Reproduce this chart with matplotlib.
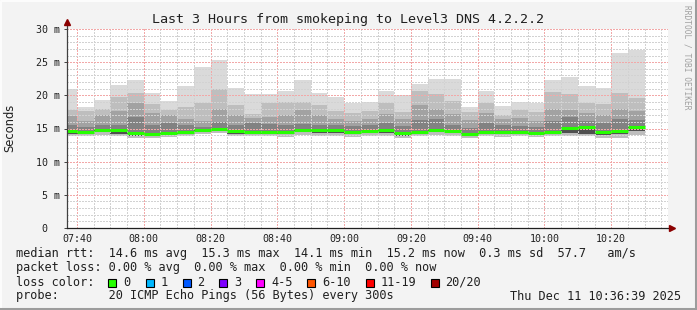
import matplotlib
matplotlib.use("Agg")
import matplotlib.pyplot as plt
from matplotlib.patches import Rectangle
from matplotlib.lines import Line2D
import numpy as np

# 5 minute bins, minutes after 07:00 (first bin is partly outside the window)
bin_start = np.arange(35, 210, 5)

# smoke levels per bin, milliseconds
ping_max = [21.0, 18.2, 19.3, 21.6, 22.3, 20.4, 19.2, 21.4, 24.3, 25.3,
            21.1, 20.2, 20.2, 20.7, 22.3, 20.4, 19.8, 18.9, 19.0, 20.7,
            20.1, 21.7, 22.5, 22.5, 18.2, 20.7, 18.4, 19.0, 18.9, 22.3,
            22.8, 21.4, 21.1, 26.4, 26.9]
ping_p90 = [17.8, 17.6, 18.0, 19.8, 20.3, 18.7, 17.8, 18.3, 18.8, 21.0,
            18.6, 17.2, 18.8, 19.0, 19.0, 18.6, 17.7, 17.3, 17.6, 18.8,
            17.5, 20.6, 20.2, 19.2, 17.5, 18.9, 17.0, 17.8, 17.5, 20.5,
            20.2, 18.8, 18.7, 20.3, 19.6]
ping_p75 = [16.9, 16.2, 17.0, 17.7, 18.9, 17.3, 17.1, 16.4, 16.1, 18.0,
            17.0, 16.6, 16.7, 17.0, 17.8, 17.0, 16.4, 16.2, 16.5, 17.2,
            16.4, 18.6, 18.0, 17.2, 16.3, 17.3, 16.4, 16.6, 16.1, 18.0,
            17.8, 17.4, 17.0, 18.0, 17.6]
ping_p60 = [15.6, 15.3, 15.6, 15.5, 16.8, 15.6, 15.8, 15.5, 15.3, 16.0,
            15.6, 15.8, 15.7, 15.5, 15.7, 15.6, 15.5, 15.4, 15.6, 15.8,
            15.4, 16.3, 16.5, 15.6, 15.1, 15.9, 15.5, 15.4, 15.2, 16.2,
            16.8, 16.1, 15.9, 16.5, 16.3]
ping_median = [14.6, 14.4, 14.8, 14.7, 14.3, 14.1, 14.3, 14.5, 14.8, 15.0,
               14.6, 14.5, 14.5, 14.4, 14.7, 14.7, 14.7, 14.5, 14.6, 14.7,
               14.3, 14.5, 14.7, 14.6, 14.2, 14.5, 14.4, 14.5, 14.3, 14.5,
               15.1, 15.3, 14.4, 14.6, 15.2]
ping_p25 = [14.2, 14.1, 14.4, 14.2, 13.9, 13.8, 14.0, 14.1, 14.5, 14.7,
            14.2, 14.1, 14.2, 14.1, 14.4, 14.3, 14.3, 14.1, 14.3, 14.3,
            13.9, 14.2, 14.4, 14.3, 13.9, 14.2, 14.1, 14.2, 14.0, 14.2,
            14.3, 14.2, 14.0, 14.2, 14.6]
ping_min = [13.8, 13.8, 14.0, 13.8, 13.5, 13.5, 13.7, 13.8, 14.1, 14.3,
            13.8, 13.8, 13.8, 13.7, 14.0, 13.9, 13.9, 13.7, 13.9, 13.9,
            13.6, 13.8, 14.0, 13.9, 13.6, 13.8, 13.7, 13.9, 13.7, 13.9,
            13.9, 13.8, 13.5, 13.6, 14.0]

tick_pos = [40, 60, 80, 100, 120, 140, 160, 180, 200]
tick_labels = ['07:40', '08:00', '08:20', '08:40', '09:00',
               '09:20', '09:40', '10:00', '10:20']
ytick_pos = [0, 5, 10, 15, 20, 25, 30]
ytick_labels = ['0  ', ' 5 m', '10 m', '15 m', '20 m', '25 m', '30 m']

loss_labels = ['0', '1', '2', '3', '4-5', '6-10', '11-19', '20/20']
loss_colors = ['#26ff00', '#00b8ff', '#0059ff', '#7e00ff',
               '#ff00ff', '#ff5500', '#ff0000', '#a10000']

W, H = 697, 310
MONO = 'DejaVu Sans Mono'

fig = plt.figure(figsize=(W / 100, H / 100), dpi=100, facecolor='#f3f3f3')
ax = fig.add_axes([67 / W, 82 / H, 601 / W, 199 / H])
ax.set_facecolor('white')
ax.set_xlim(37, 217)
ax.set_ylim(0, 30)

edges = np.append(bin_start, bin_start[-1] + 5)

# smoke: outer bands light, inner bands dark
ax.stairs(ping_max, edges, baseline=ping_min, fill=True, color='#dadada', zorder=1)
ax.stairs(ping_p90, edges, baseline=ping_min, fill=True, color='#bebebe', zorder=1.1)
ax.stairs(ping_p75, edges, baseline=ping_p25, fill=True, color='#a2a2a2', zorder=1.2)
ax.stairs(ping_p60, edges, baseline=ping_p25, fill=True, color='#828282', zorder=1.3)
ax.stairs(ping_median, edges, baseline=ping_p25, fill=True, color='#505050', zorder=1.4)

# median line (0 % loss -> green)
ax.hlines(ping_median, edges[:-1], edges[1:], color=loss_colors[0], lw=2.2, zorder=3)

# grid on top of the data, rrdtool style
dot = (0, (1.4, 1.4))
grid_kw = dict(lw=0.72, ls=dot, zorder=2.5, antialiased=False)
for x in range(40, 217, 5):
    col = '#f2a8a8' if x in tick_pos else '#d2d2d2'
    ax.axvline(x, color=col, **grid_kw)
for y in range(1, 31):
    col = '#f2a8a8' if y % 5 == 0 else '#d2d2d2'
    ax.axhline(y, color=col, **grid_kw)

for s in ax.spines.values():
    s.set_visible(False)

# axes with arrows
ax.plot([0, 0], [0, 1 + 7 / 199], transform=ax.transAxes, clip_on=False,
        color='#404040', lw=0.9, zorder=4)
ax.plot([0, 1 + 4 / 601], [0, 0], transform=ax.transAxes, clip_on=False,
        color='#202020', lw=0.9, zorder=4)
ax.plot([0], [1 + 7 / 199], marker='^', ms=5, color='#8b0000',
        transform=ax.transAxes, clip_on=False, zorder=5)
ax.plot([1 + 4 / 601], [0], marker='>', ms=5, color='#8b0000',
        transform=ax.transAxes, clip_on=False, zorder=5)

ax.set_xticks(tick_pos, tick_labels)
ax.set_yticks(ytick_pos, ytick_labels)
ax.tick_params(axis='x', length=0, pad=4, labelsize=7.2, labelcolor='#202020')
ax.tick_params(axis='y', length=2.2, width=0.7, pad=2.8, labelsize=7.2,
               color='#404040', labelcolor='#202020')
for lab in ax.get_xticklabels() + ax.get_yticklabels():
    lab.set_family(MONO)

fig.text(10 / W, 1 - 128 / H, 'Seconds', rotation=90, ha='center', va='center',
         fontsize=8.3, family='DejaVu Sans', color='#202020')
fig.text(0.5, 1 - 19 / H, 'Last 3 Hours from smokeping to Level3 DNS 4.2.2.2',
         ha='center', va='center', fontsize=9.6, family=MONO, color='#202020')
fig.text(687 / W, 1 - 5 / H, 'RRDTOOL / TOBI OETIKER', rotation=270,
         ha='center', va='top', fontsize=5.7, family=MONO, color='#a0a0a0')

# legend block
lx = 16 / W
rows = [
    (254, 'median rtt:  14.6 ms avg  15.3 ms max  14.1 ms min  15.2 ms now  0.3 ms sd  57.7   am/s'),
    (268, 'packet loss: 0.00 % avg  0.00 % max  0.00 % min  0.00 % now'),
    (282, 'loss color:'),
    (296, 'probe:       20 ICMP Echo Pings (56 Bytes) every 300s'),
]
for ypix, txt in rows:
    fig.text(lx, 1 - ypix / H, txt, ha='left', va='center', fontsize=8.6,
             family=MONO, color='#202020')

box_x = [108, 145.5, 182.5, 219, 256, 307, 365.5, 430.5]
for bx, lab, col in zip(box_x, loss_labels, loss_colors):
    fig.patches.append(Rectangle((bx / W, 1 - 286.5 / H), 8 / W, 8 / H,
                                 transform=fig.transFigure, facecolor=col,
                                 edgecolor='black', lw=0.8))
    fig.text((bx + 15) / W, 1 - 282 / H, lab, ha='left', va='center',
             fontsize=8.6, family=MONO, color='#202020')

fig.text(681 / W, 1 - 296 / H, 'Thu Dec 11 10:36:39 2025', ha='right',
         va='center', fontsize=8.6, family=MONO, color='#202020')

# image frame
fig.add_artist(Line2D([1 / W, 1 / W, 1 - 1 / W], [1 / H, 1 - 1 / H, 1 - 1 / H],
                      transform=fig.transFigure, color='#fcfcfc', lw=1.5))
fig.add_artist(Line2D([1 / W, 1 - 1.5 / W, 1 - 1.5 / W], [1.5 / H, 1.5 / H, 1 - 1 / H],
                      transform=fig.transFigure, color='#9c9c9c', lw=2.2))

fig.savefig('out.png', dpi=100, facecolor=fig.get_facecolor())
